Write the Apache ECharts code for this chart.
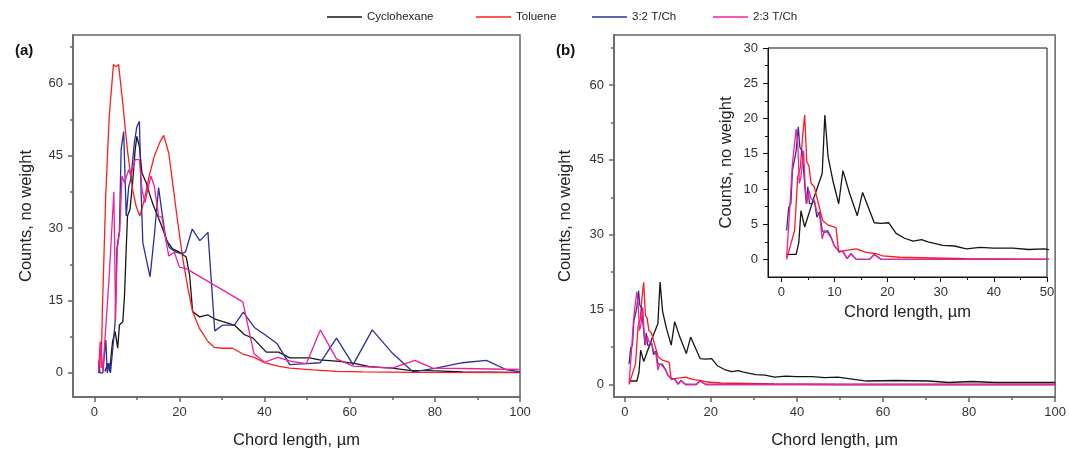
<!DOCTYPE html>
<html>
<head>
<meta charset="utf-8">
<script src="https://cdn.jsdelivr.net/npm/echarts@6/dist/echarts.min.js"></script>
<style>
  html, body { margin: 0; padding: 0; background: #fff; }
  #main { width: 1069px; height: 454px; }
</style>
</head>
<body>
<div id="main"></div>
<script>
// series names and colours
const names = ['Cyclohexane', 'Toluene', '3:2 T/Ch', '2:3 T/Ch'];
const colors = ['#151515', '#ff1c1c', '#2a2e9c', '#f0209a'];

// panel (a): [chord length, counts]
const cycloA = [[2.5,0.3],[3.2,2.0],[3.6,0.3],[4.0,4.0],[4.3,6.5],[4.9,8.6],[5.5,5.1],[5.9,9.9],[6.7,10.6],[7.1,16],[7.5,25.7],[7.8,32.5],[8.4,33.9],[9.0,39.4],[9.6,46.2],[10.0,49],[10.6,46.9],[11.2,41.4],[12.2,39.4],[12.9,37.3],[13.9,34.6],[14.9,32.5],[16.1,29.8],[17.0,27.4],[18.4,25.7],[20.0,25],[21.6,24],[22.4,20.2],[23.1,12.7],[24.7,11.6],[26.7,12],[28.2,11.2],[30.2,10.6],[32.9,9.9],[35.3,7.9],[37.3,7.2],[38.8,5.8],[40.4,4.3],[43.3,4.3],[45.9,3.1],[50.6,3.1],[52.9,2.7],[57.6,2.4],[61.4,1.9],[64.6,1.3],[70,1.0],[74,0.5],[80.3,0.4],[86.5,0.2],[100,0.1]];
const toluA = [[1.0,0.3],[1.4,6.5],[1.6,1],[1.9,13],[2.7,37],[3.5,53],[4.5,63.9],[5.1,63.4],[5.7,63.9],[6.7,55.8],[7.8,46],[9.0,38],[9.8,34.6],[10.7,32.5],[11.8,36],[12.9,40.8],[14.1,44.9],[15.3,47.6],[16.3,49.2],[17.5,45.5],[18.4,39.4],[19.6,31.2],[20.8,23.6],[22.0,17.5],[23.1,12.7],[24.7,9.2],[26.7,6.5],[28.2,5.3],[30,5.1],[32.5,5.1],[34.9,3.9],[37.6,3.2],[40,2.1],[43.1,1.4],[45.9,1.0],[51.4,0.6],[56.9,0.3],[63.1,0.2],[75,0.1],[100,0.05]];
const blueA = [[1.0,0],[1.1,2.5],[1.3,0],[2.0,0],[2.7,6.8],[3.05,0],[3.4,2],[3.8,0],[4.1,0],[4.5,6.5],[4.9,10.6],[5.3,25.7],[5.9,29.5],[6.3,46.2],[6.9,50],[7.5,32.5],[8.1,38.7],[8.6,40.1],[9.4,47.6],[10.0,51],[10.6,52.1],[11.0,37.3],[11.4,27],[12.2,23.6],[13.1,19.9],[14.1,28.4],[15.1,38.4],[15.9,33.2],[16.7,28.4],[17.6,26],[19.2,25],[20.4,24.7],[21.4,25],[23.0,29.8],[24.8,27.4],[26.7,29.1],[28.3,8.7],[30.2,9.9],[32.9,9.9],[35.0,12.6],[37.6,9.4],[40.1,7.9],[42.9,6.1],[45.9,1.7],[49.8,1.9],[53.1,2.1],[56.9,7.2],[60.8,1.7],[65.3,8.9],[70,4.1],[74.9,0.2],[80.3,1.0],[86.5,2.1],[92.1,2.6],[96.7,0.7],[100,0.2]];
const pinkA = [[1.0,0.3],[1.5,6],[2.0,0.3],[2.3,0.5],[3.5,20],[4.6,37.5],[5.0,11],[5.4,25.7],[6.0,29.5],[6.5,40.8],[7.1,39.4],[8.1,42.1],[8.6,40.8],[9.6,44.2],[10.6,44.2],[11.2,38],[11.9,35.3],[13.3,40.8],[14.1,38.7],[15.1,32.5],[15.9,32.2],[16.7,28],[17.5,24.2],[18.8,25],[20.0,21.9],[21.6,21.6],[34.9,14.7],[37.5,4.0],[40,2.2],[43.1,3.2],[46.3,2.4],[49.8,1.9],[53.1,8.9],[56.9,2.9],[60.8,1.4],[65.3,1.2],[70,1.0],[75.3,2.6],[79.5,1.0],[86.5,0.9],[100,0.7]];

// panel (b) and its inset use the same data
const cycloB = [[1.0,0.7],[2.8,0.7],[3.3,2.4],[3.7,6.9],[4.4,4.6],[6.2,8.9],[7.7,12.2],[8.2,20.5],[8.8,14.6],[9.7,11.2],[10.8,7.9],[11.6,12.6],[12.8,9.5],[14.3,6.2],[15.3,9.5],[17.5,5.2],[18.8,5.1],[20.2,5.2],[21.6,3.7],[23.2,3.0],[24.8,2.6],[26.4,2.8],[27.6,2.5],[30.4,2.0],[32.6,1.9],[34.8,1.5],[37.4,1.7],[39.9,1.6],[43.6,1.6],[46.5,1.4],[49.5,1.5],[56.2,0.7],[63,0.8],[70.7,0.7],[75.3,0.4],[80.6,0.6],[86,0.4],[100,0.4]];
const toluB = [[1.0,0],[1.8,2.2],[2.5,4.1],[3.1,11.7],[3.6,13.1],[4.0,17.4],[4.4,20.5],[4.8,13.8],[5.2,13.3],[5.6,10.8],[6.2,10.3],[7.0,7.9],[7.8,5.5],[8.7,4.9],[10.3,4.5],[10.8,1.0],[11.6,1.2],[14.1,1.5],[16.0,1.0],[17.9,0.8],[19.1,0.5],[22.3,0.3],[28.6,0.2],[34.8,0.1],[50,0],[100,0]];
const blueB = [[1.0,4.1],[1.4,7.4],[1.8,7.9],[2.1,12.6],[2.8,15.4],[3.2,18.8],[3.5,15.9],[3.9,15.4],[4.3,11.7],[4.7,7.9],[5.0,10.3],[5.3,7.9],[5.8,7.9],[6.2,8.4],[6.7,6.0],[7.2,6.7],[7.7,4.1],[8.1,3.8],[8.7,4.1],[9.4,3.1],[10.0,1.9],[10.8,1.2],[11.6,1.1],[12.4,0.1],[13.1,0.8],[14.1,0],[16.6,0],[17.5,0.7],[18.8,0],[100,0]];
const pinkB = [[1.0,0.3],[1.5,6],[2.1,13.6],[2.8,18.5],[3.1,16.4],[3.4,10.8],[3.7,11.7],[4.2,15.4],[4.5,10.3],[4.8,7.9],[5.2,9.8],[5.6,8.6],[6.2,8.4],[6.7,6.7],[7.2,6.4],[7.7,2.9],[8.1,4.1],[8.7,3.8],[9.4,3.0],[10.0,1.9],[10.8,1.2],[11.6,1.1],[12.4,0.1],[13.1,0.8],[14.1,0],[16.6,0],[17.5,0.7],[18.8,0],[100,0]];

// tick positions
const xMajor = [0, 20, 40, 60, 80, 100];
const xMinor = [10, 30, 50, 70, 90];
const yMajor = [0, 15, 30, 45, 60];
const yMinor = [7.5, 22.5, 37.5, 52.5, 67.5];
const xMajorIn = [0, 10, 20, 30, 40, 50];
const xMinorIn = [5, 15, 25, 35, 45];
const yMajorIn = [0, 5, 10, 15, 20, 25, 30];
const yMinorIn = [2.5, 7.5, 12.5, 17.5, 22.5, 27.5];

const chart = echarts.init(document.getElementById('main'));
const font = 'Arial, "Liberation Sans", sans-serif';

// a pair of axes (major + minor ticks) for one side of a grid
function axisPair(dim, grid, min, max, major, minor, name, gap, col, labelSize, lineW) {
    const pos = dim === 'x' ? 'bottom' : 'left';
    const main = {
        gridIndex: grid, type: 'value', min: min, max: max, position: pos,
        axisLine: {show: true, onZero: false, lineStyle: {color: col, width: lineW}},
        axisTick: {show: true, length: 5, customValues: major, lineStyle: {color: col, width: lineW}},
        axisLabel: {customValues: major, fontSize: labelSize, color: '#333', fontFamily: font, margin: dim === 'x' ? 9 : 10},
        splitLine: {show: false},
        name: name, nameLocation: 'middle', nameGap: gap,
        nameTextStyle: {fontSize: 16.5, color: '#222', fontFamily: font}
    };
    const sub = {
        gridIndex: grid, type: 'value', min: min, max: max, position: pos,
        axisLine: {show: false, onZero: false},
        axisTick: {show: true, length: 3, customValues: minor, lineStyle: {color: col, width: lineW}},
        axisLabel: {show: false},
        splitLine: {show: false}
    };
    return [main, sub];
}

const xAxes = [].concat(
    axisPair('x', 0, -5, 100, xMajor, xMinor, 'Chord length, µm', 35, '#666', 13, 1.5),
    axisPair('x', 1, -2.5, 100, xMajor, xMinor, 'Chord length, µm', 35, '#666', 13, 1.5),
    axisPair('x', 2, -2.5, 50, xMajorIn, xMinorIn, 'Chord length, µm', 23, '#111', 13, 1)
);
const yAxes = [].concat(
    axisPair('y', 0, -5, 70, yMajor, yMinor, 'Counts, no weight', 38, '#666', 13, 1.5),
    axisPair('y', 1, -2.5, 70, yMajor, yMinor, 'Counts, no weight', 40, '#666', 13, 1.5),
    axisPair('y', 2, -2.5, 30, yMajorIn, yMinorIn, 'Counts, no weight', 33, '#111', 13, 1)
);

const sets = [
    [cycloA, toluA, blueA, pinkA],
    [cycloB, toluB, blueB, pinkB],
    [cycloB, toluB, blueB, pinkB]
];
const series = [];
sets.forEach(function (group, g) {
    group.forEach(function (data, i) {
        series.push({
            name: names[i], type: 'line', data: data,
            xAxisIndex: g * 2, yAxisIndex: g * 2,
            showSymbol: false, symbol: 'none', smooth: false,
            lineStyle: {color: colors[i], width: 1.3},
            itemStyle: {color: colors[i]},
            z: 3 + i
        });
    });
});

const legendLeft = [327, 476, 592, 713];
const option = {
    animation: false,
    backgroundColor: '#fff',
    title: [
        {text: '(a)', left: 10, top: 38, textStyle: {fontSize: 15, fontWeight: 'bold', color: '#111', fontFamily: font}},
        {text: '(b)', left: 551, top: 38, textStyle: {fontSize: 15, fontWeight: 'bold', color: '#111', fontFamily: font}}
    ],
    legend: names.map(function (n, i) {
        return {
            data: [n], left: legendLeft[i], top: 11, padding: 0, icon: 'rect',
            itemWidth: 35, itemHeight: 1.5,
            textStyle: {fontSize: 11.5, color: '#222', fontFamily: font}
        };
    }),
    grid: [
        {left: 73, top: 35, width: 447, height: 364, show: true, borderColor: '#666', borderWidth: 1.5},
        {left: 614, top: 35, width: 447, height: 363, show: true, borderColor: '#666', borderWidth: 1.5},
        {left: 768, top: 48, width: 279, height: 229, show: true, borderColor: '#111', borderWidth: 1, backgroundColor: '#fff'}
    ],
    xAxis: xAxes,
    yAxis: yAxes,
    series: series
};
chart.setOption(option);
</script>
</body>
</html>
